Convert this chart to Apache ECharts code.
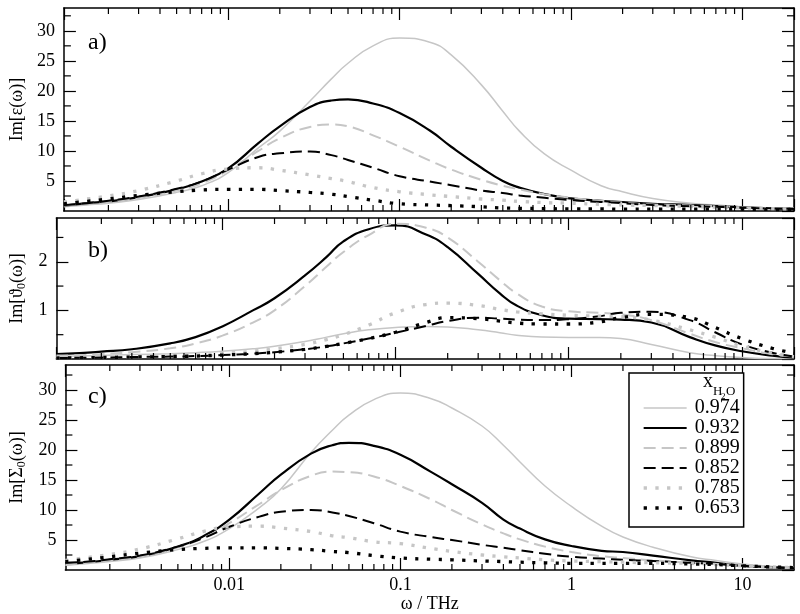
<!DOCTYPE html>
<html><head><meta charset="utf-8">
<script src="https://cdn.jsdelivr.net/npm/echarts@6/dist/echarts.min.js"></script>
<style>html,body{margin:0;padding:0;background:#fff}#chart{width:800px;height:614px}</style>
</head><body><div id="chart"></div>
<script>
// frequency grid (THz)
const freq = [0.0011, 0.0015, 0.002, 0.003, 0.005, 0.007, 0.01, 0.015, 0.02, 0.03, 0.04, 0.05, 0.07, 0.1, 0.15, 0.2, 0.3, 0.4, 0.5, 0.7, 1, 1.5, 2, 3, 5, 7, 10, 15, 20];
const seriesNames = ['0.974', '0.932', '0.899', '0.852', '0.785', '0.653'];

// panel a) Im[eps(w)]
const eps974 = [0.7, 1.0, 1.3, 1.9, 3.1, 4.2, 6.4, 10.5, 13.3, 18.3, 22.0, 24.6, 27.5, 28.8, 28.1, 26.0, 21.0, 16.6, 13.3, 9.5, 6.8, 4.2, 3.2, 2.1, 1.3, 1.0, 0.7, 0.5, 0.4];
const eps932 = [0.9, 1.3, 1.6, 2.3, 3.6, 4.9, 7.1, 11.3, 14.1, 17.3, 18.4, 18.6, 17.9, 16.3, 13.4, 10.7, 7.2, 5.0, 3.9, 2.8, 2.1, 1.7, 1.5, 1.2, 1.0, 0.8, 0.6, 0.45, 0.4];
const eps899 = [0.9, 1.2, 1.5, 2.2, 3.4, 4.6, 6.8, 10.0, 12.1, 14.0, 14.4, 14.1, 12.6, 10.7, 8.4, 6.9, 5.2, 4.2, 3.6, 2.8, 2.2, 1.7, 1.4, 1.1, 0.9, 0.8, 0.6, 0.45, 0.4];
const eps852 = [1.0, 1.3, 1.7, 2.4, 3.7, 4.9, 6.9, 9.0, 9.6, 9.9, 9.3, 8.5, 7.2, 5.8, 4.9, 4.3, 3.4, 3.0, 2.6, 2.2, 1.8, 1.5, 1.3, 1.0, 0.8, 0.7, 0.55, 0.4, 0.35];
const eps785 = [1.5, 2.0, 2.5, 3.4, 5.0, 6.2, 7.0, 7.2, 6.8, 6.0, 5.4, 4.9, 3.9, 3.2, 2.7, 2.4, 2.0, 1.8, 1.6, 1.4, 1.3, 1.1, 1.0, 0.9, 0.75, 0.65, 0.5, 0.4, 0.3];
const eps653 = [1.2, 1.6, 2.0, 2.6, 3.2, 3.5, 3.6, 3.6, 3.4, 3.1, 2.8, 2.4, 1.8, 1.2, 1.0, 0.9, 0.7, 0.5, 0.45, 0.4, 0.35, 0.35, 0.3, 0.3, 0.3, 0.3, 0.3, 0.25, 0.2];

// panel b) Im[theta0(w)]
const theta974 = [0.05, 0.06, 0.07, 0.09, 0.11, 0.13, 0.16, 0.21, 0.26, 0.36, 0.45, 0.52, 0.6, 0.65, 0.67, 0.66, 0.6, 0.54, 0.49, 0.45, 0.44, 0.44, 0.42, 0.3, 0.13, 0.07, 0.03, 0.01, 0.01];
const theta932 = [0.1, 0.12, 0.15, 0.2, 0.32, 0.45, 0.67, 1.0, 1.25, 1.72, 2.1, 2.42, 2.67, 2.75, 2.56, 2.3, 1.75, 1.35, 1.1, 0.9, 0.83, 0.82, 0.81, 0.75, 0.45, 0.28, 0.16, 0.07, 0.03];
const theta899 = [0.07, 0.08, 0.1, 0.14, 0.22, 0.32, 0.48, 0.75, 1.0, 1.5, 1.9, 2.2, 2.55, 2.78, 2.7, 2.5, 2.0, 1.62, 1.35, 1.08, 0.98, 0.95, 0.92, 0.8, 0.52, 0.35, 0.22, 0.1, 0.05];
const theta852 = [0.02, 0.025, 0.03, 0.04, 0.05, 0.06, 0.08, 0.11, 0.14, 0.2, 0.26, 0.32, 0.42, 0.54, 0.68, 0.78, 0.85, 0.83, 0.81, 0.8, 0.82, 0.88, 0.95, 0.97, 0.8, 0.55, 0.3, 0.13, 0.05];
const theta785 = [0.02, 0.025, 0.03, 0.04, 0.06, 0.08, 0.11, 0.16, 0.21, 0.3, 0.4, 0.5, 0.7, 0.95, 1.12, 1.15, 1.1, 1.02, 0.97, 0.93, 0.9, 0.88, 0.87, 0.8, 0.6, 0.45, 0.27, 0.12, 0.05];
const theta653 = [0.02, 0.025, 0.03, 0.04, 0.05, 0.06, 0.08, 0.11, 0.14, 0.2, 0.26, 0.32, 0.42, 0.55, 0.75, 0.85, 0.83, 0.78, 0.74, 0.72, 0.72, 0.76, 0.85, 0.92, 0.85, 0.65, 0.42, 0.22, 0.12];

// panel c) Im[Sigma0(w)]
const sigma974 = [0.8, 1.1, 1.4, 2.0, 3.4, 4.7, 6.9, 10.4, 13.5, 19.6, 23.3, 25.8, 28.4, 29.5, 28.6, 27.0, 24.0, 20.8, 18.0, 14.0, 10.6, 7.3, 5.5, 3.8, 2.2, 1.6, 1.0, 0.6, 0.4];
const sigma932 = [1.0, 1.3, 1.7, 2.3, 3.9, 5.6, 8.4, 12.8, 15.9, 19.4, 20.8, 21.2, 20.7, 19.2, 16.4, 14.3, 11.2, 8.4, 6.9, 5.1, 4.0, 3.2, 3.0, 2.4, 1.6, 1.2, 0.7, 0.45, 0.3];
const sigma899 = [0.9, 1.2, 1.6, 2.2, 3.8, 5.3, 7.8, 11.0, 13.3, 15.7, 16.4, 16.3, 15.6, 14.0, 11.8, 10.0, 7.6, 6.1, 5.1, 3.9, 3.0, 2.3, 2.0, 1.6, 1.2, 1.0, 0.7, 0.45, 0.3];
const sigma852 = [1.2, 1.4, 1.8, 2.4, 3.9, 5.3, 7.2, 8.9, 9.7, 10.0, 9.6, 9.0, 7.8, 6.4, 5.5, 5.0, 4.2, 3.7, 3.3, 2.7, 2.2, 1.9, 1.7, 1.5, 1.2, 1.0, 0.7, 0.45, 0.3];
const sigma785 = [1.6, 2.1, 2.6, 3.5, 5.2, 6.4, 7.2, 7.3, 7.0, 6.4, 5.7, 5.4, 4.7, 4.4, 3.6, 3.1, 2.5, 2.2, 2.0, 1.7, 1.5, 1.4, 1.3, 1.2, 1.1, 0.9, 0.7, 0.5, 0.4];
const sigma653 = [1.4, 1.8, 2.2, 2.8, 3.4, 3.6, 3.7, 3.7, 3.6, 3.4, 3.1, 2.9, 2.4, 2.0, 1.8, 1.7, 1.5, 1.4, 1.3, 1.2, 1.1, 1.1, 1.1, 1.1, 1.0, 0.9, 0.7, 0.5, 0.4];

// axis tick positions
const xMinorTicks = [0.002, 0.003, 0.004, 0.005, 0.006, 0.007, 0.008, 0.009, 0.02, 0.03, 0.04, 0.05, 0.06, 0.07, 0.08, 0.09, 0.2, 0.3, 0.4, 0.5, 0.6, 0.7, 0.8, 0.9, 2, 3, 4, 5, 6, 7, 8, 9];
const yMinorA = [2.5, 7.5, 12.5, 17.5, 22.5, 27.5, 32.5];
const yMinorB = [0.5, 1.5, 2.5];
const yMinorC = [2.5, 7.5, 12.5, 17.5, 22.5, 27.5, 32.5];

const panels = [
  { data: [eps974, eps932, eps899, eps852, eps785, eps653], yMinor: yMinorA, ymax: 33.8, interval: 5,
    top: 8, height: 203, label: 'a)', labelY: 43, name: 'Im[ε(ω)]' },
  { data: [theta974, theta932, theta899, theta852, theta785, theta653], yMinor: yMinorB, ymax: 2.9, interval: 1,
    top: 218, height: 141, label: 'b)', labelY: 251, name: '{m|Im[ϑ}{s|0}{m|(ω)]}' },
  { data: [sigma974, sigma932, sigma899, sigma852, sigma785, sigma653], yMinor: yMinorC, ymax: 34.17, interval: 5,
    top: 365, height: 205, label: 'c)', labelY: 397, name: '{m|Im[Σ}{s|0}{m|(ω)]}' }
];

const GRAY = '#c6c6c6';
const lineStyles = [
  { color: GRAY, width: 1.5, type: 'solid' },
  { color: '#000', width: 2.2, type: 'solid' },
  { color: GRAY, width: 2, type: [12, 6] },
  { color: '#000', width: 2, type: [12, 6] },
  { color: GRAY, width: 3.3, type: [3.3, 8.4] },
  { color: '#000', width: 3.3, type: [3.3, 8.4] }
];

const FONT = '"Liberation Serif", "Times New Roman", serif';
const XMIN = 0.0011, XMAX = 20;

const grid = [], xAxis = [], yAxis = [], series = [], graphic = [];
const axisLine = { show: true, onZero: false, lineStyle: { color: '#000', width: 1.5 } };
const axisTick = { show: true, inside: true, length: 12, lineStyle: { color: '#000', width: 1.2 } };

function xMinorRender(params, api) {
  const cs = params.coordSys;
  const px = api.coord([api.value(0), api.value(1)])[0];
  const b = cs.y + cs.height;
  return { type: 'group', children: [
    { type: 'line', shape: { x1: px, y1: b, x2: px, y2: b - 6 }, style: { stroke: '#000', lineWidth: 1.2 } },
    { type: 'line', shape: { x1: px, y1: cs.y, x2: px, y2: cs.y + 6 }, style: { stroke: '#000', lineWidth: 1.2 } }
  ] };
}
function yMinorRender(params, api) {
  const cs = params.coordSys;
  const py = api.coord([api.value(0), api.value(1)])[1];
  const r = cs.x + cs.width;
  return { type: 'group', children: [
    { type: 'line', shape: { x1: cs.x, y1: py, x2: cs.x + 7, y2: py }, style: { stroke: '#000', lineWidth: 1.2 } },
    { type: 'line', shape: { x1: r, y1: py, x2: r - 7, y2: py }, style: { stroke: '#000', lineWidth: 1.2 } }
  ] };
}

panels.forEach((p, i) => {
  grid.push({ left: 56, top: p.top, width: 738, height: p.height });
  const isLast = i === panels.length - 1;
  xAxis.push({
    type: 'log', logBase: 10, gridIndex: i, min: XMIN, max: XMAX, position: 'bottom',
    axisLine, axisTick, splitLine: { show: false },
    axisLabel: { show: isLast, showMinLabel: false, showMaxLabel: false, margin: 6,
      color: '#000', fontFamily: FONT, fontSize: 18 },
    name: isLast ? 'ω / THz' : '', nameLocation: 'middle', nameGap: 16,
    nameTextStyle: { color: '#000', fontFamily: FONT, fontSize: 18 }
  });
  xAxis.push({
    type: 'log', logBase: 10, gridIndex: i, min: XMIN, max: XMAX, position: 'top',
    axisLine, axisTick, splitLine: { show: false }, axisLabel: { show: false }
  });
  yAxis.push({
    type: 'value', gridIndex: i, min: 0, max: p.ymax, interval: p.interval, position: 'left',
    axisLine, axisTick, splitLine: { show: false },
    axisLabel: { showMinLabel: false, showMaxLabel: false, margin: 9, color: '#000', fontFamily: FONT, fontSize: 18 },
    name: p.name, nameLocation: 'middle', nameGap: 28, nameRotate: 90,
    nameTextStyle: { color: '#000', fontFamily: FONT, fontSize: 18,
      rich: { m: { fontFamily: FONT, fontSize: 18, color: '#000' },
              s: { fontFamily: FONT, fontSize: 12, color: '#000', verticalAlign: 'bottom', padding: [9, 0, 0, 0] } } }
  });
  yAxis.push({
    type: 'value', gridIndex: i, min: 0, max: p.ymax, interval: p.interval, position: 'right',
    axisLine, axisTick, splitLine: { show: false }, axisLabel: { show: false }
  });
  p.data.forEach((vals, k) => {
    series.push({
      type: 'line', name: seriesNames[k], xAxisIndex: 2 * i, yAxisIndex: 2 * i,
      data: freq.map((f, j) => [f, vals[j]]),
      showSymbol: false, symbol: 'none', smooth: 0.5,
      lineStyle: lineStyles[k], itemStyle: { color: lineStyles[k].color },
      silent: true, animation: false, z: 2
    });
  });
  series.push({
    type: 'custom', xAxisIndex: 2 * i, yAxisIndex: 2 * i, renderItem: xMinorRender,
    data: xMinorTicks.map(v => [v, p.ymax / 2]), silent: true, animation: false, clip: false, z: 3
  });
  series.push({
    type: 'custom', xAxisIndex: 2 * i, yAxisIndex: 2 * i, renderItem: yMinorRender,
    data: p.yMinor.map(v => [0.01, v]), silent: true, animation: false, clip: false, z: 3
  });
  graphic.push({ type: 'text', x: 88, y: p.labelY,
    style: { text: p.label, fontFamily: FONT, fontSize: 24, fill: '#000', textVerticalAlign: 'middle' } });
});

// legend title x_{H2O}
graphic.push({ type: 'text', x: 703, y: 382, z: 100, style: { text: 'x', fontFamily: FONT, fontSize: 20, fill: '#000', textVerticalAlign: 'middle' } });
graphic.push({ type: 'text', x: 713, y: 392, z: 100, style: { text: 'H', fontFamily: FONT, fontSize: 13, fill: '#000', textVerticalAlign: 'middle' } });
graphic.push({ type: 'text', x: 721, y: 397, z: 100, style: { text: '2', fontFamily: FONT, fontSize: 9, fill: '#000', textVerticalAlign: 'middle' } });
graphic.push({ type: 'text', x: 726, y: 392, z: 100, style: { text: 'O', fontFamily: FONT, fontSize: 13, fill: '#000', textVerticalAlign: 'middle' } });

const chart = echarts.init(document.getElementById('chart'), null, { renderer: 'canvas' });
chart.setOption({
  backgroundColor: '#fff',
  animation: false,
  grid, xAxis, yAxis, series, graphic,
  legend: {
    data: seriesNames, orient: 'vertical', left: 629, top: 373,
    padding: [25, 4, 9, 13], itemGap: 0, itemWidth: 43, itemHeight: 14,
    backgroundColor: '#fff', borderColor: '#000', borderWidth: 1.5, borderRadius: 0,
    selectedMode: false, z: 50,
    itemStyle: { opacity: 0, borderWidth: 0 },
    lineStyle: { width: 'inherit', type: 'inherit' },
    textStyle: { color: '#000', fontFamily: FONT, fontSize: 20, lineHeight: 19, padding: [0, 0, 0, 3] }
  }
});
</script></body></html>
